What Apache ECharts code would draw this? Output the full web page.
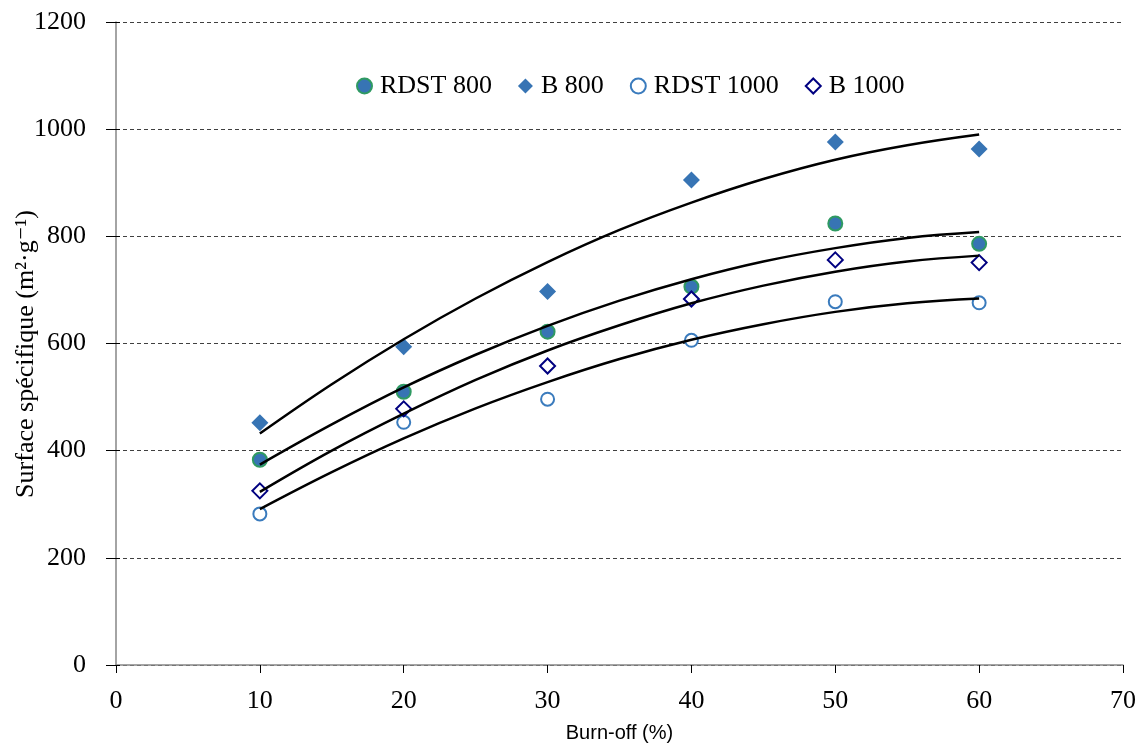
<!DOCTYPE html>
<html><head><meta charset="utf-8">
<script src="https://cdn.jsdelivr.net/npm/echarts@6/dist/echarts.min.js"></script>
<style>html,body{margin:0;padding:0;background:#fff}#c{width:1143px;height:744px}</style>
</head><body><div id="c"></div>
<script>
const burnOff = [10, 20, 30, 40, 50, 60];
const rdst800 = [383, 510, 622, 706, 824, 786];
const b800 = [452, 594, 697, 905, 976, 963];
const rdst1000 = [282, 453, 496, 606, 678, 676];
const b1000 = [325, 478, 558, 683, 756, 751];
// trend curves
const trendX = [10, 15, 20, 25, 30, 35, 40, 45, 50, 55, 60];
const trendB800 = [432, 524, 608, 684, 752, 812, 863, 907, 943, 970, 990];
const trendRdst800 = [374, 449, 518, 579, 633, 680, 720, 753, 778, 797, 808];
const trendB1000 = [323, 400, 469, 532, 587, 634, 675, 708, 734, 753, 764];
const trendRdst1000 = [291, 360, 423, 479, 528, 571, 607, 636, 659, 675, 684];
const legendNames = ['RDST 800', 'B 800', 'RDST 1000', 'B 1000'];
const yTitle = 'Surface spécifique (m²·g⁻¹)';
const xTitle = 'Burn-off (%)';

const pts = (xs, ys) => xs.map((x, i) => [x, ys[i]]);
const serif = '"Liberation Serif", "DejaVu Serif", serif';
const trend = (ys) => ({
  type: 'line', data: pts(trendX, ys), smooth: 0.4, symbol: 'none',
  lineStyle: { color: '#000', width: 2.5 }, z: 5, silent: true
});

const chart = echarts.init(document.getElementById('c'), null, { renderer: 'canvas' });
chart.setOption({
  animation: false,
  backgroundColor: '#fff',
  grid: { left: 116, right: 20, top: 22, bottom: 79, containLabel: false, outerBoundsMode: 'none' },
  legend: {
    data: legendNames,
    left: 351, top: 68, itemWidth: 15, itemHeight: 15, itemGap: 26,
    textStyle: { fontFamily: serif, fontSize: 26, color: '#000', padding: [0, 0, 0, 3] }
  },
  xAxis: {
    type: 'value', min: 0, max: 70, interval: 10,
    axisLine: { lineStyle: { color: '#868686', width: 1.5 } },
    axisTick: { show: true, length: 8, lineStyle: { color: '#000' } },
    axisLabel: { fontFamily: serif, fontSize: 26, color: '#000', margin: 23 },
    splitLine: { show: false },
    name: xTitle, nameLocation: 'middle', nameGap: 58,
    nameTextStyle: { fontFamily: '"Liberation Sans", Arial, sans-serif', fontSize: 20, color: '#000' }
  },
  yAxis: [{
    type: 'value', min: 0, max: 1200, interval: 200,
    axisLine: { show: true, lineStyle: { color: '#868686', width: 1.5 } },
    axisTick: { show: true, length: 10, lineStyle: { color: '#000' } },
    axisLabel: { fontFamily: serif, fontSize: 26, color: '#000', margin: 30, formatter: (v) => String(v) },
    splitLine: { show: true, lineStyle: { color: '#404040', type: [4, 3], width: 1 } }
  }, {
    type: 'value', min: 0, max: 1200, interval: 200, position: 'left',
    axisLine: { show: false }, axisLabel: { show: false }, splitLine: { show: false },
    axisTick: { show: true, inside: true, length: 4, lineStyle: { color: '#000' } }
  }],
  graphic: [{
    type: 'text', x: 26, y: 354, rotation: Math.PI / 2,
    style: { text: yTitle, font: '26px ' + serif, fill: '#000', textAlign: 'center', textVerticalAlign: 'middle' }
  }],
  series: [
    { name: 'RDST 800', type: 'scatter', data: pts(burnOff, rdst800), symbol: 'circle', symbolSize: 14,
      itemStyle: { color: '#3774b4', borderColor: '#2f9a62', borderWidth: 2, opacity: 1 }, z: 3 },
    { name: 'B 800', type: 'scatter', data: pts(burnOff, b800), symbol: 'diamond', symbolSize: 17,
      itemStyle: { color: '#3774b4', opacity: 1 }, z: 3 },
    { name: 'RDST 1000', type: 'scatter', data: pts(burnOff, rdst1000), symbol: 'circle', symbolSize: 13,
      itemStyle: { color: '#fff', borderColor: '#3a7bbd', borderWidth: 2, opacity: 1 }, z: 3 },
    { name: 'B 1000', type: 'scatter', data: pts(burnOff, b1000), symbol: 'diamond', symbolSize: 15,
      itemStyle: { color: '#fff', borderColor: '#000080', borderWidth: 2, opacity: 1 }, z: 3 },
    trend(trendB800), trend(trendRdst800), trend(trendB1000), trend(trendRdst1000)
  ]
});
</script></body></html>
